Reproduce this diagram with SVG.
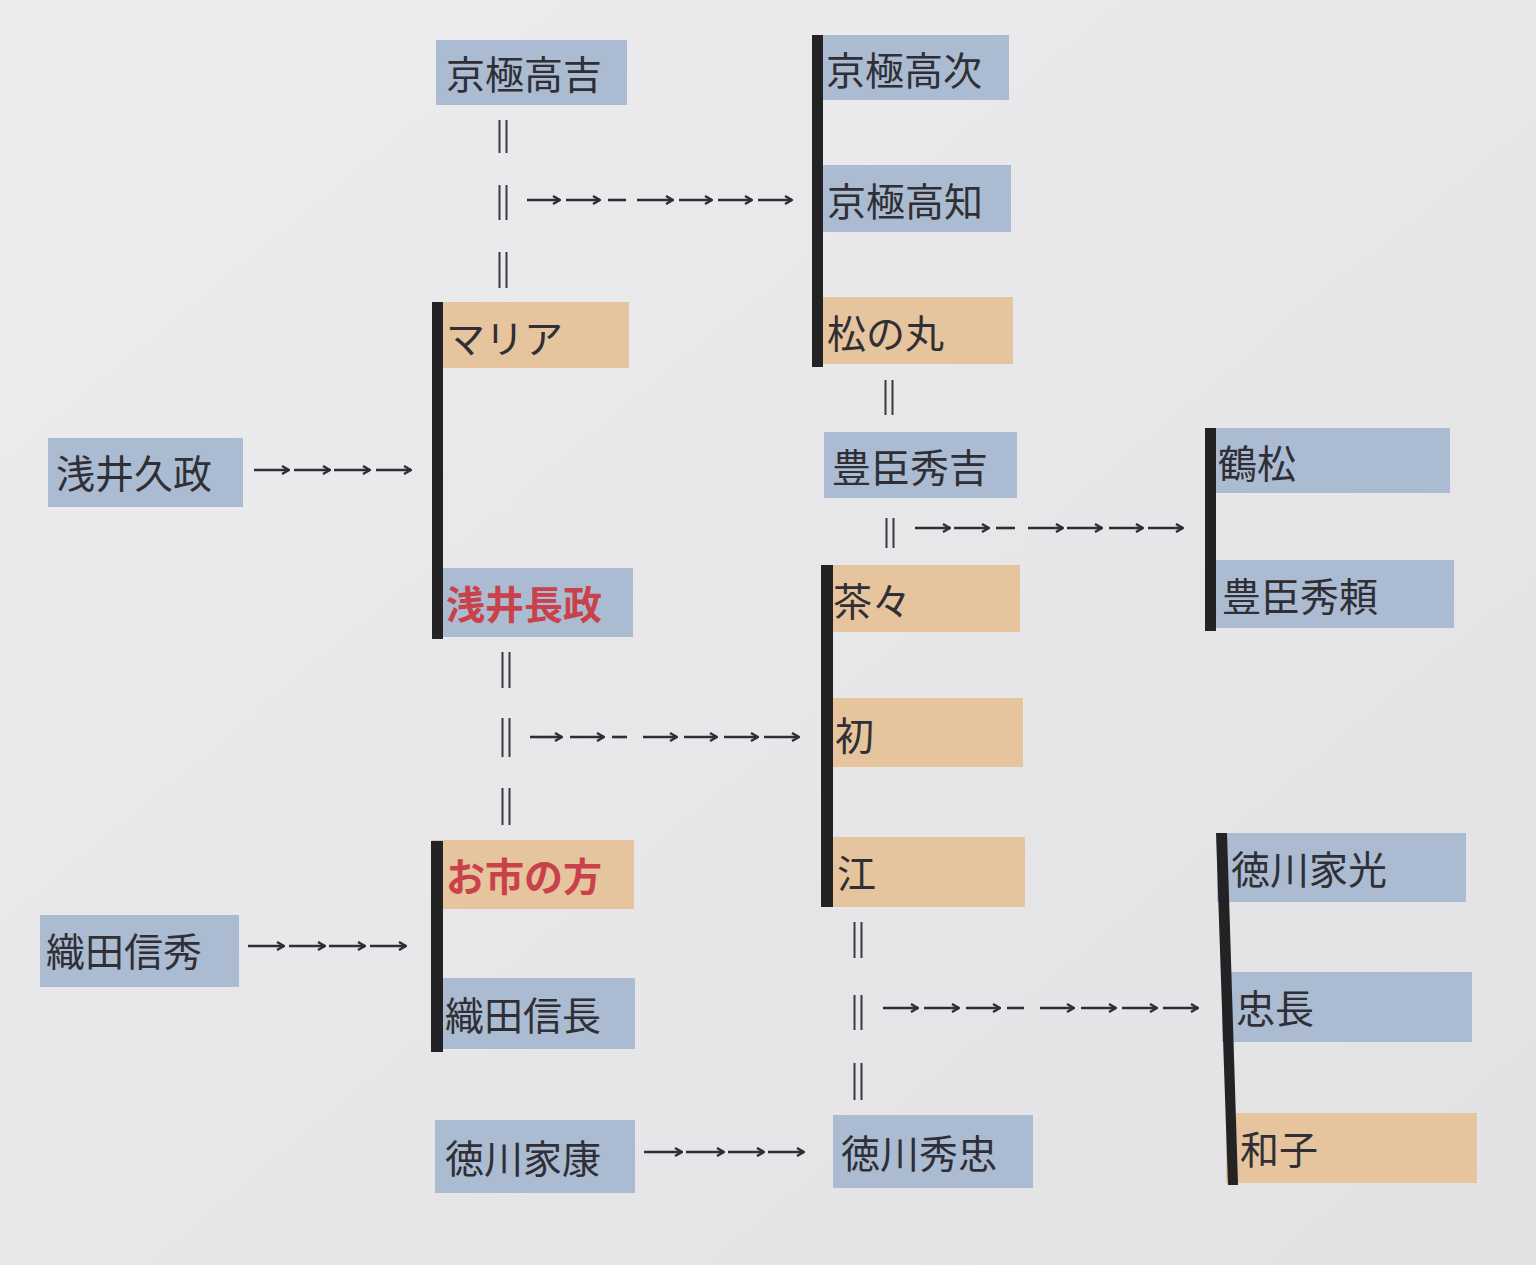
<svg xmlns="http://www.w3.org/2000/svg" width="1536" height="1265" viewBox="0 0 1536 1265">
<defs>
<linearGradient id="bg" x1="0" y1="0" x2="1" y2="1">
<stop offset="0" stop-color="#ededef"/>
<stop offset="1" stop-color="#e2e2e5"/>
</linearGradient>
<marker id="ah" viewBox="0 0 10 10" refX="9" refY="5" markerWidth="10" markerHeight="10" markerUnits="userSpaceOnUse" orient="auto">
<polyline points="2,1 9,5 2,9" fill="none" stroke="#2f2f33" stroke-width="2.4" stroke-linejoin="miter"/>
</marker>
<style>
.b{fill:#abbbd1}
.o{fill:#e6c49d}
.t{font-family:"Noto Sans CJK JP","Noto Sans CJK SC",sans-serif;font-size:39px;fill:#2f2f35;dominant-baseline:central}
.r{fill:#c9424b;font-weight:bold}
.bar{fill:#232326}
.eq{stroke:#3a3a3e;stroke-width:2;fill:none}
.ar{stroke:#2f2f33;stroke-width:2.6;fill:none;marker-end:url(#ah)}
.da{stroke:#2f2f33;stroke-width:2.6;fill:none}
</style>
</defs>
<rect x="0" y="0" width="1536" height="1265" fill="url(#bg)"/>

<g id="nodes">
<g id="n-takayoshi"><rect class="b" x="436" y="40" width="191" height="65"/><text class="t" x="446" y="72">京極高吉</text></g>
<g id="n-takatsugu"><rect class="b" x="817" y="35" width="192" height="65"/><text class="t" x="826" y="68">京極高次</text></g>
<g id="n-takatomo"><rect class="b" x="817" y="165" width="194" height="67"/><text class="t" x="827" y="199">京極高知</text></g>
<g id="n-matsunomaru"><rect class="o" x="817" y="297" width="196" height="67"/><text class="t" x="827" y="331">松の丸</text></g>
<g id="n-maria"><rect class="o" x="433" y="302" width="196" height="66"/><text class="t" x="446" y="336">マリア</text></g>
<g id="n-hisamasa"><rect class="b" x="48" y="438" width="195" height="69"/><text class="t" x="56" y="471">浅井久政</text></g>
<g id="n-nagamasa"><rect class="b" x="433" y="568" width="200" height="69"/><text class="t r" x="446" y="602">浅井長政</text></g>
<g id="n-hideyoshi"><rect class="b" x="824" y="432" width="193" height="66"/><text class="t" x="832" y="465">豊臣秀吉</text></g>
<g id="n-tsurumatsu"><rect class="b" x="1206" y="428" width="244" height="65"/><text class="t" x="1218" y="461">鶴松</text></g>
<g id="n-hideyori"><rect class="b" x="1209" y="560" width="245" height="68"/><text class="t" x="1222" y="594">豊臣秀頼</text></g>
<g id="n-chacha"><rect class="o" x="821" y="565" width="199" height="67"/><text class="t" x="833" y="599">茶々</text></g>
<g id="n-hatsu"><rect class="o" x="823" y="698" width="200" height="69"/><text class="t" x="835" y="733">初</text></g>
<g id="n-go"><rect class="o" x="823" y="837" width="202" height="70"/><text class="t" x="837" y="871">江</text></g>
<g id="n-oichi"><rect class="o" x="432" y="840" width="202" height="69"/><text class="t r" x="446" y="874">お市の方</text></g>
<g id="n-nobuhide"><rect class="b" x="40" y="915" width="199" height="72"/><text class="t" x="46" y="949">織田信秀</text></g>
<g id="n-nobunaga"><rect class="b" x="432" y="978" width="203" height="71"/><text class="t" x="445" y="1013">織田信長</text></g>
<g id="n-ieyasu"><rect class="b" x="435" y="1120" width="200" height="73"/><text class="t" x="445" y="1156">徳川家康</text></g>
<g id="n-hidetada"><rect class="b" x="833" y="1115" width="200" height="73"/><text class="t" x="841" y="1151">徳川秀忠</text></g>
<g id="n-iemitsu"><rect class="b" x="1217" y="833" width="249" height="69"/><text class="t" x="1231" y="867">徳川家光</text></g>
<g id="n-tadanaga"><rect class="b" x="1222" y="972" width="250" height="70"/><text class="t" x="1236" y="1006">忠長</text></g>
<g id="n-masako"><rect class="o" x="1226" y="1113" width="251" height="70"/><text class="t" x="1240" y="1147">和子</text></g>
</g>

<g id="connectors">
<!-- sibling bars -->
<rect class="bar" x="812" y="35" width="11" height="332"/>
<rect class="bar" x="432" y="302" width="11" height="337"/>
<rect class="bar" x="1205" y="428" width="11" height="203"/>
<rect class="bar" x="821" y="565" width="12" height="342"/>
<rect class="bar" x="431" y="841" width="12" height="211"/>
<polygon class="bar" points="1216,833 1227,833 1238,1185 1228,1185"/>

<!-- marriage marks -->
<path class="eq" d="M499.5,120V153M506.5,120V153M499.5,185V220M506.5,185V220M499.5,252V288M506.5,252V288"/>
<path class="eq" d="M502.5,652V688M509.5,652V688M502.5,718V757M509.5,718V757M502.5,788V825M509.5,788V825"/>
<path class="eq" d="M885.5,380V415M892.5,380V415"/>
<path class="eq" d="M886.5,518V548M893.5,518V548"/>
<path class="eq" d="M854.5,922V958M861.5,922V958M854.5,995V1030M861.5,995V1030M854.5,1063V1100M861.5,1063V1100"/>

<!-- Kyogoku children -->
<path class="ar" d="M527,200H560"/><path class="ar" d="M566,200H600"/><path class="da" d="M608,200H626"/><path class="ar" d="M637,200H673"/><path class="ar" d="M679,200H712"/><path class="ar" d="M718,200H752"/><path class="ar" d="M758,200H792"/>
<!-- Azai children -->
<path class="ar" d="M530,737H562"/><path class="ar" d="M570,737H604"/><path class="da" d="M612,737H627"/><path class="ar" d="M643,737H677"/><path class="ar" d="M684,737H717"/><path class="ar" d="M724,737H758"/><path class="ar" d="M764,737H799"/>
<!-- Toyotomi children -->
<path class="ar" d="M915,528H950"/><path class="ar" d="M954,528H989"/><path class="da" d="M996,528H1015"/><path class="ar" d="M1028,528H1063"/><path class="ar" d="M1067,528H1102"/><path class="ar" d="M1109,528H1143"/><path class="ar" d="M1148,528H1183"/>
<!-- Tokugawa children -->
<path class="ar" d="M883,1008H918"/><path class="ar" d="M924,1008H959"/><path class="ar" d="M966,1008H1000"/><path class="da" d="M1007,1008H1024"/><path class="ar" d="M1040,1008H1074"/><path class="ar" d="M1081,1008H1116"/><path class="ar" d="M1122,1008H1157"/><path class="ar" d="M1163,1008H1198"/>
<!-- parent to child -->
<path class="ar" d="M254,470H289"/><path class="ar" d="M294,470H330"/><path class="ar" d="M334,470H370"/><path class="ar" d="M376,470H411"/>
<path class="ar" d="M248,946H284"/><path class="ar" d="M289,946H325"/><path class="ar" d="M329,946H365"/><path class="ar" d="M370,946H406"/>
<path class="ar" d="M644,1152H682"/><path class="ar" d="M686,1152H724"/><path class="ar" d="M728,1152H764"/><path class="ar" d="M768,1152H804"/>
</g>
</svg>
